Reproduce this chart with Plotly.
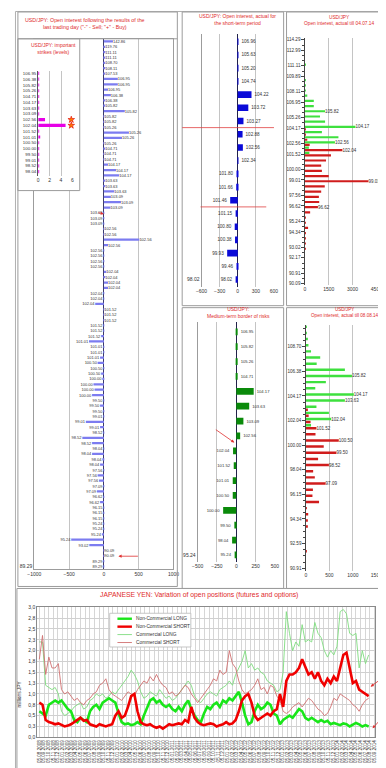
import plotly.graph_objects as go
import pandas as pd

W, H = 386, 768

# ---------------- DATA ----------------
# Big left panel: open interest after the last trading day
big_labels = [
    "142.86", "119.76", "111.11", "111.11", "108.70", "108.11", "107.53", "106.95", "106.95", "106.95",
    "106.38", "106.38", "105.82", "105.82", "105.82", "105.82", "105.26", "105.26", "105.26", "105.26",
    "104.71", "104.71", "104.71", "104.17", "104.17", "104.17", "103.63", "103.63", "103.63", "103.09",
    "103.09", "103.09", "103.09", "103.09", "103.09", "102.56", "102.56", "102.56", "102.56", "102.56",
    "102.56", "102.56", "102.56", "102.04", "102.04", "102.04", "102.04", "102.04", "102.04", "102.04",
    "101.52", "101.52", "101.52", "101.52", "101.52", "101.52", "101.01", "101.01", "101.01", "101.01",
    "100.50", "100.50", "100.50", "100.00", "100.00", "100.00", "100.00", "99.50", "99.50", "99.50",
    "99.01", "99.01", "99.01", "98.52", "98.52", "98.52", "98.04", "98.04", "98.04", "98.04",
    "97.56", "97.56", "97.56", "97.09", "97.09", "96.62", "96.62", "96.15", "96.15", "96.15",
    "95.24", "95.24", "95.24", "95.24", "93.02", "90.09", "90.09", "89.29", "89.29"]
big_values = [
    130, 15, 15, 15, 15, 15, 15, 200, 200, 60,
    100, 20, 20, 300, 5, 5, 5, 360, 260, 5,
    10, 5, 5, 60, 175, 220, 10, 10, 150, 100,
    245, 95, -5, -5, -5, 5, 5, 510, 60, -5,
    -5, -5, -5, 35, 10, 60, 60, -5, -5, -125,
    5, 5, 5, -5, -5, -40, -215, -5, -5, -55,
    -90, -5, -40, -10, -150, -135, -170, -5, -55, -5,
    -5, -260, -55, -5, -310, -170, -5, -170, -10, -55,
    -5, -90, -70, -5, -100, -5, -55, -5, -5, -5,
    -5, -5, -30, -470, -210, 5, 5, -5, -5]

# Inset: important strikes
inset_labels = ["106.95", "106.38", "105.82", "105.26", "104.71", "104.17", "103.63", "103.09", "102.56",
                "102.04", "101.52", "101.01", "100.50", "100.00", "99.50", "99.01", "98.52", "98.04"]
inset_values = [0.12, 0.12, 0.12, 0.12, 0.12, 0.12, 0.12, 0.12, 1.2,
                4.8, 0.12, 0.2, 0.12, 0.12, 0.12, 0.12, 0.12, 0.12]
inset_marker_labels = ["102.56", "102.04"]
inset_marker_values = [5.8, 5.8]

# Middle top: short-term open interest
mt_labels = ["106.96", "105.63", "105.20", "104.74", "104.22", "103.72", "103.27", "102.88", "102.56", "102.34",
             "101.80", "101.66", "101.46", "101.15", "100.80", "100.38", "99.93", "99.46", "98.02"]
mt_values = [8, 8, 8, 8, 228, 175, 95, 80, 85, 8, -8, -25, -125, -35, -50, -45, -175, -20, -35]

# Middle lower: medium-term border of risks
ml_labels = ["106.95", "105.82", "105.26", "104.71", "104.17", "103.63", "103.09", "102.56",
             "102.04", "101.52", "101.01", "100.50", "100.00", "99.50", "98.04", "95.24"]
ml_values = [5, 5, 5, 5, 225, 167, 92, 50, -42, -33, -46, -46, -170, -25, -54, -12]

# Right top: open interest till 04.07.14 (calls green, puts red)
rt_cats = ["114.29", "113.64", "112.99", "112.36", "111.73", "111.11", "110.50", "109.89", "109.29", "108.70",
           "108.11", "107.53", "106.95", "106.38", "105.82", "105.26", "104.71", "104.17", "103.63", "103.09",
           "102.56", "102.04", "101.52", "101.01", "100.50", "100.00", "99.50", "99.01", "98.52", "98.04",
           "97.56", "97.09", "96.62", "96.15", "95.69", "95.24", "94.79", "94.34", "93.90", "93.46",
           "93.02", "92.59", "92.17", "91.74", "91.32", "90.91", "90.50", "90.09"]
rt_green = [0, 0, 0, 0, 0, 10, 0, 0, 10, 20,
            30, 150, 560, 560, 1270, 950, 1270, 3180, 1070, 2110,
            1890, 250, 280, 0, 0, 0, 0, 0, 0, 0,
            0, 0, 0, 0, 0, 0, 0, 0, 0, 0,
            0, 0, 0, 0, 0, 0, 0, 0]
rt_red = [0, 0, 0, 0, 0, 0, 0, 0, 0, 0,
          0, 0, 0, 0, 0, 0, 0, 20, 20, 150,
          300, 2360, 1640, 1330, 1025, 1070, 1500, 4000, 1250, 1025,
          880, 900, 820, 330, 30, 40, 200, 60, 40, 20,
          10, 0, 0, 0, 0, 0, 0, 0]
rt_ticks = ["114.29", "112.99", "111.11", "109.89", "108.11", "106.95", "105.26", "104.17", "102.56", "101.52",
            "100.00", "99.01", "97.56", "96.62", "95.24", "94.34", "93.02", "92.17", "90.91", "90.09"]
rt_green_marked = ["105.82", "104.17", "102.56"]
rt_red_marked = ["102.04", "99.01", "96.62"]

# Right lower: open interest till 08.08.14
rl_cats = ["110.50", "109.89", "109.29", "108.70", "108.11", "107.53", "106.95", "106.38", "105.82", "105.26",
           "104.71", "104.17", "103.63", "103.09", "102.56", "102.04", "101.52", "101.01", "100.50", "100.00",
           "99.50", "99.01", "98.52", "98.04", "97.56", "97.09", "96.62", "96.15", "95.69", "95.24",
           "94.79", "94.34", "93.90", "93.46", "93.02", "92.59", "92.17", "91.74", "91.32", "90.91"]
rl_green = [10, 20, 40, 55, 110, 305, 230, 830, 980, 425,
            200, 1020, 830, 225, 490, 540, 110, 0, 0, 0,
            0, 0, 0, 0, 0, 0, 0, 0, 0, 0,
            0, 0, 0, 0, 0, 0, 0, 0, 0, 0]
rl_red = [0, 0, 0, 0, 0, 0, 0, 0, 0, 0,
          0, 0, 0, 30, 60, 100, 225, 205, 700, 380,
          650, 260, 490, 155, 190, 420, 150, 140, 280, 20,
          50, 40, 30, 0, 0, 0, 15, 0, 0, 0]
rl_ticks = ["108.70", "106.38", "104.17", "102.04", "100.00", "98.04", "96.15", "94.34", "92.59", "90.91"]
rl_green_marked = ["105.82", "104.17", "103.63", "102.04"]
rl_red_marked = ["101.52", "100.50", "99.50", "98.52", "97.09"]

# Bottom: COT positions (millions JPY), sampled every 3 weeks
cot_start = "2008-08-05"
cot_names = ["Non-Commercial LONG", "Non-Commercial SHORT", "Commercial LONG", "Commercial SHORT"]
ncl = [0.6, 0.55, 0.5, 0.75, 0.8, 0.85, 0.8, 0.85, 0.75, 0.65,
       0.6, 0.4, 0.35, 0.45, 0.4, 0.35, 0.6, 0.7, 0.75, 0.65,
       0.8, 0.85, 0.9, 0.85, 0.8, 0.55, 0.35, 0.3, 0.32, 0.28,
       0.3, 0.35, 0.3, 0.5, 0.7, 0.85, 0.9, 0.8, 0.85, 0.75,
       0.7, 0.75, 0.65, 0.6, 0.7, 0.6, 0.75, 0.85, 0.65, 0.5,
       0.4, 0.35, 0.55, 0.7, 0.65, 0.75, 0.8, 0.7, 0.85, 0.8,
       0.9, 0.85, 0.95, 1.05, 0.8, 0.5, 0.3, 0.35, 0.6, 0.75,
       0.65, 0.7, 0.8, 0.75, 0.55, 0.5, 0.3, 0.4, 0.45, 0.5,
       0.45, 0.55, 0.65, 0.6, 0.45, 0.4, 0.45, 0.4, 0.35, 0.4,
       0.35, 0.38, 0.3, 0.33, 0.3, 0.28, 0.32, 0.3, 0.25, 0.3,
       0.33, 0.3, 0.25, 0.28, 0.25]
ncs = [0.8, 0.75, 0.4, 0.35, 0.33, 0.3, 0.32, 0.28, 0.25, 0.27,
       0.3, 0.35, 0.4, 0.45, 0.38, 0.4, 0.3, 0.28, 0.25, 0.3,
       0.27, 0.25, 0.28, 0.3, 0.5, 0.6, 0.45, 0.5, 0.7, 0.95,
       1.0, 0.6, 0.35, 0.3, 0.28, 0.3, 0.25, 0.22, 0.25, 0.2,
       0.25, 0.3, 0.28, 0.3, 0.32, 0.3, 0.4, 0.35, 0.7, 0.45,
       0.35, 0.3, 0.28, 0.3, 0.32, 0.3, 0.25, 0.28, 0.3, 0.35,
       0.3, 0.32, 0.4, 0.6, 0.85, 0.95, 1.0, 0.8, 0.5, 0.4,
       0.45, 0.5, 0.55, 0.5, 0.6, 0.65, 1.0, 0.7, 1.3, 1.45,
       1.45, 1.5, 1.6, 1.8, 1.6, 1.45, 1.5, 1.35, 1.5, 1.3,
       1.2, 1.35, 1.25, 1.4, 1.3, 1.6, 1.9, 1.95, 1.6, 1.25,
       1.3, 1.1, 1.05, 1.0, 0.95]
cl = [2.2, 2.2, 1.2, 1.15, 1.1, 1.15, 1.0, 0.6, 0.5, 0.55,
      0.6, 0.7, 0.75, 0.8, 0.65, 0.7, 0.85, 0.9, 1.0, 0.95,
      1.0, 0.9, 0.95, 1.05, 1.0, 1.1, 1.2, 1.3, 1.4, 1.55,
      1.45, 1.3, 1.05, 0.9, 0.95, 1.05, 1.0, 0.95, 1.1, 1.0,
      0.9, 0.95, 0.85, 0.9, 1.0, 1.1, 1.2, 1.3, 1.2, 0.95,
      0.85, 0.8, 0.9, 1.0, 1.05, 1.0, 0.95, 1.1, 1.15, 1.2,
      1.3, 1.2, 1.45, 1.6, 1.75, 2.0, 1.6, 1.7, 1.55, 1.6,
      1.5, 1.45, 1.3, 1.25, 1.2, 1.05, 1.1, 1.5, 2.9, 2.4,
      2.0, 2.2, 2.1, 2.6, 2.2, 2.25, 2.2, 2.65, 2.4, 2.3,
      2.0, 1.85, 2.0, 1.9, 2.1, 2.9, 2.95, 2.85, 2.4, 2.35,
      2.4, 1.6, 2.0, 1.7, 1.9]
cs = [1.8, 2.35, 1.45, 1.85, 1.6, 1.6, 1.7, 1.1, 1.0, 1.05,
      0.95, 0.85, 0.9, 0.8, 0.75, 0.85, 0.9, 1.0, 1.05, 1.2,
      1.25, 1.35, 1.1, 1.0, 0.95, 0.9, 0.85, 0.95, 1.05, 1.0,
      0.95, 1.1, 1.2, 1.3, 1.25, 1.4, 1.3, 1.45, 1.3, 1.2,
      1.15, 1.0, 1.05, 0.95, 1.0, 1.1, 1.2, 1.15, 1.0, 0.9,
      0.8, 0.9, 1.0, 1.1, 1.2, 1.35, 1.3, 1.55, 1.45, 1.5,
      2.0, 1.7, 1.6, 1.3, 1.1, 1.0, 1.05, 1.1, 1.2, 1.35,
      1.1, 1.15, 1.0, 1.2, 1.15, 0.95, 0.85, 0.6, 0.55, 0.6,
      0.7, 0.75, 0.8, 0.7, 0.8, 0.9, 0.85, 0.75, 0.65, 0.6,
      0.5, 0.55, 0.7, 0.9, 0.85, 1.0, 0.95, 0.9, 0.85, 0.75,
      0.7, 0.6, 0.75, 0.85, 0.9]

# ---------------- helpers ----------------
def fx(p):
    return p / W


def fy(p):
    return 1 - p / H


def dxd(a, b):
    return [a / W, b / W]


def dyd(top, bottom):
    return [1 - bottom / H, 1 - top / H]


FONT = "Arial, 'Liberation Sans', sans-serif"
RED = "#e02a2a"
GRID = "#c4c4c4"
BOX = "#9c9c9c"
TXT = "#333333"

fig = go.Figure()

# ---------------- big left panel ----------------
big_rows = list(range(len(big_labels)))
fig.add_trace(go.Bar(
    x=big_values, y=big_rows, orientation="h", width=0.42,
    marker=dict(color="#7c7cf0", line=dict(width=0)),
    text=big_labels, textposition="outside", constraintext="none", cliponaxis=False,
    textfont=dict(size=4, color=TXT), xaxis="x", yaxis="y", hoverinfo="skip"))

# cover subplot for the inset (white background over the big panel)
fig.add_trace(go.Scatter(x=[0], y=[0], mode="markers", marker=dict(opacity=0),
                         xaxis="x2", yaxis="y2", hoverinfo="skip"))

# ---------------- inset ----------------
inset_rows = list(range(len(inset_labels)))
fig.add_trace(go.Bar(
    x=inset_values, y=inset_rows, orientation="h", width=0.55,
    marker=dict(color="#e600e6", line=dict(width=0)),
    xaxis="x3", yaxis="y3", hoverinfo="skip"))
fig.add_trace(go.Scatter(
    x=inset_marker_values, y=[inset_labels.index(v) for v in inset_marker_labels],
    mode="markers", marker=dict(symbol="star", size=5, color="#ff7a00", line=dict(color="#e00000", width=0.6)),
    xaxis="x3", yaxis="y3", hoverinfo="skip", cliponaxis=False))

# ---------------- middle top ----------------
fig.add_trace(go.Bar(
    x=mt_values, y=list(range(len(mt_labels))), orientation="h", width=0.5,
    marker=dict(color="#0a0ad8", line=dict(width=0)),
    text=mt_labels, textposition="outside", constraintext="none", cliponaxis=False,
    textfont=dict(size=4.6, color=TXT), xaxis="x4", yaxis="y4", hoverinfo="skip"))

# ---------------- right top ----------------
rt_rows = list(range(len(rt_cats)))
fig.add_trace(go.Bar(
    x=rt_green, y=rt_rows, orientation="h", width=0.42, offset=-0.45,
    marker=dict(color="#3ee03e", line=dict(width=0)),
    text=[c if c in rt_green_marked else "" for c in rt_cats],
    textposition="outside", constraintext="none", cliponaxis=False,
    textfont=dict(size=4.5, color=TXT), xaxis="x5", yaxis="y5", hoverinfo="skip"))
fig.add_trace(go.Bar(
    x=rt_red, y=rt_rows, orientation="h", width=0.42, offset=0.03,
    marker=dict(color="#d01c1c", line=dict(width=0)),
    text=[c if c in rt_red_marked else "" for c in rt_cats],
    textposition="outside", constraintext="none", cliponaxis=False,
    textfont=dict(size=4.5, color=TXT), xaxis="x5", yaxis="y5", hoverinfo="skip"))

# ---------------- middle lower ----------------
fig.add_trace(go.Bar(
    x=ml_values, y=list(range(len(ml_labels))), orientation="h", width=0.45,
    marker=dict(color="#0a8a0a", line=dict(width=0)),
    text=ml_labels, textposition="outside", constraintext="none", cliponaxis=False,
    textfont=dict(size=4.2, color=TXT), xaxis="x6", yaxis="y6", hoverinfo="skip"))

# ---------------- right lower ----------------
rl_rows = list(range(len(rl_cats)))
fig.add_trace(go.Bar(
    x=rl_green, y=rl_rows, orientation="h", width=0.4, offset=-0.45,
    marker=dict(color="#3ee03e", line=dict(width=0)),
    text=[c if c in rl_green_marked else "" for c in rl_cats],
    textposition="outside", constraintext="none", cliponaxis=False,
    textfont=dict(size=4.5, color=TXT), xaxis="x7", yaxis="y7", hoverinfo="skip"))
fig.add_trace(go.Bar(
    x=rl_red, y=rl_rows, orientation="h", width=0.4, offset=0.03,
    marker=dict(color="#d01c1c", line=dict(width=0)),
    text=[c if c in rl_red_marked else "" for c in rl_cats],
    textposition="outside", constraintext="none", cliponaxis=False,
    textfont=dict(size=4.5, color=TXT), xaxis="x7", yaxis="y7", hoverinfo="skip"))

# ---------------- bottom line chart ----------------
cot_dates = pd.date_range(cot_start, periods=len(ncl), freq="21D")
series = [(cl, "#7fdc7f", 0.9, cot_names[2]), (cs, "#d07070", 0.9, cot_names[3]),
          (ncl, "#19e619", 2.6, cot_names[0]), (ncs, "#f00000", 2.6, cot_names[1])]
for vals, col, wdt, nm in series:
    fig.add_trace(go.Scatter(x=cot_dates, y=vals, mode="lines", name=nm,
                             line=dict(color=col, width=wdt), xaxis="x8", yaxis="y8", hoverinfo="skip"))

# ---------------- axes ----------------
tf = dict(size=5, color=TXT, family=FONT)
layout_axes = dict(
    xaxis=dict(domain=dxd(20, 164), anchor="y", range=[-1000, 1000], dtick=500, tickfont=tf,
               showgrid=True, gridcolor=GRID, gridwidth=0.6, zeroline=True, zerolinecolor="#3a3a6a",
               zerolinewidth=1, showline=True, linecolor=BOX, mirror=True, ticks=""),
    yaxis=dict(domain=dyd(28, 562), anchor="x", range=[len(big_labels) - 0.6, -0.5],
               tickmode="array", tickvals=[len(big_labels) - 1], ticktext=[big_labels[-1]], tickfont=tf,
               showgrid=False, zeroline=False, showline=True, linecolor=BOX, mirror=True, ticks=""),
    xaxis2=dict(domain=dxd(3, 67), anchor="y2", range=[0, 1], showgrid=False, zeroline=False,
                showline=False, showticklabels=False, ticks=""),
    yaxis2=dict(domain=dyd(28, 181), anchor="x2", range=[0, 1], showgrid=False, zeroline=False,
                showline=False, showticklabels=False, ticks=""),
    xaxis3=dict(domain=dxd(24, 60), anchor="y3", range=[0, 6.1], tickvals=[0, 2, 4, 6], tickfont=tf,
                showgrid=True, gridcolor=GRID, gridwidth=0.6, zeroline=False, showline=False, ticks=""),
    yaxis3=dict(domain=dyd(60, 166), anchor="x3", range=[len(inset_labels) - 0.3, -0.5],
                tickmode="array", tickvals=inset_rows, ticktext=inset_labels,
                tickfont=dict(size=4.4, color=TXT, family=FONT),
                showgrid=False, zeroline=False, showline=True, linecolor="#555555", ticks=""),
    xaxis4=dict(domain=dxd(193, 268), anchor="y4", range=[-600, 600], dtick=300, tickfont=tf,
                showgrid=True, gridcolor=GRID, gridwidth=0.6, zeroline=True, zerolinecolor="#22224a",
                zerolinewidth=1, showline=False, ticks=""),
    yaxis4=dict(domain=dyd(23, 278), anchor="x4", range=[len(mt_labels) - 0.45, -0.6],
                tickmode="array", tickvals=[len(mt_labels) - 1], ticktext=[mt_labels[-1]], tickfont=tf,
                showgrid=False, zeroline=False, showline=True, linecolor=BOX, ticks=""),
    xaxis5=dict(domain=dxd(300, 374), anchor="y5", range=[0, 4500], dtick=1500, tickfont=tf,
                showgrid=True, gridcolor=GRID, gridwidth=0.6, zeroline=False, showline=False, ticks=""),
    yaxis5=dict(domain=dyd(27, 276), anchor="x5", range=[len(rt_cats) - 0.8, -0.4],
                tickmode="array", tickvals=[rt_cats.index(t) for t in rt_ticks], ticktext=rt_ticks,
                tickfont=dict(size=4.6, color=TXT, family=FONT),
                showgrid=False, zeroline=False, showline=True, linecolor="#444444",
                ticks="outside", ticklen=2.5, tickcolor="#444444", tickwidth=0.6,
                minor=dict(tickmode="linear", tick0=0, dtick=1, ticks="outside", ticklen=1.5,
                           tickcolor="#444444", tickwidth=0.5, showgrid=False)),
    xaxis6=dict(domain=dxd(189, 269), anchor="y6", range=[-500, 500], dtick=250, tickfont=tf,
                showgrid=True, gridcolor=GRID, gridwidth=0.6, zeroline=True, zerolinecolor="#22224a",
                zerolinewidth=1, showline=False, ticks=""),
    yaxis6=dict(domain=dyd(313, 555), anchor="x6", range=[len(ml_labels) - 0.55, -0.69],
                tickmode="array", tickvals=[len(ml_labels) - 1], ticktext=[ml_labels[-1]], tickfont=tf,
                showgrid=False, zeroline=False, showline=True, linecolor=BOX, ticks=""),
    xaxis7=dict(domain=dxd(301, 374), anchor="y7", range=[0, 1500], dtick=500, tickfont=tf,
                showgrid=True, gridcolor=GRID, gridwidth=0.6, zeroline=False, showline=False, ticks=""),
    yaxis7=dict(domain=dyd(316.7, 564.7), anchor="x7", range=[len(rl_cats) - 0.5, -0.5],
                tickmode="array", tickvals=[rl_cats.index(t) for t in rl_ticks], ticktext=rl_ticks,
                tickfont=dict(size=4.6, color=TXT, family=FONT),
                showgrid=False, zeroline=False, showline=True, linecolor="#444444",
                ticks="outside", ticklen=2.5, tickcolor="#444444", tickwidth=0.6,
                minor=dict(tickmode="linear", tick0=0, dtick=1, ticks="outside", ticklen=1.5,
                           tickcolor="#444444", tickwidth=0.5, showgrid=False)),
    xaxis8=dict(domain=dxd(23, 373), anchor="y8", type="date", range=["2008-07-22", "2014-09-12"],
                tick0=cot_start, dtick="M1", tickformat="%d.%m.%Y", tickangle=-90,
                tickfont=dict(size=4.6, color=TXT, family=FONT),
                showgrid=True, gridcolor="#d6d6d6", gridwidth=0.5, zeroline=False,
                showline=True, linecolor="#8a8a8a", mirror=True, ticks=""),
    yaxis8=dict(domain=dyd(601, 732), anchor="x8", range=[0, 3], dtick=0.25, tickformat=".1f",
                tickfont=tf, showgrid=True, gridcolor="#d0d0d0", gridwidth=0.6, zeroline=False,
                showline=True, linecolor="#8a8a8a", mirror=True, ticks=""),
)

# ---------------- shapes ----------------
def rect(x0, y0, x1, y1, color=BOX, fill="rgba(0,0,0,0)", width=1):
    return dict(type="rect", xref="paper", yref="paper", x0=fx(x0), x1=fx(x1), y0=fy(y0), y1=fy(y1),
                line=dict(color=color, width=width), fillcolor=fill, layer="above")


def hline(x0, x1, y, color=BOX, width=1):
    return dict(type="line", xref="paper", yref="paper", x0=fx(x0), x1=fx(x1), y0=fy(y), y1=fy(y),
                line=dict(color=color, width=width), layer="above")


shapes = [
    rect(0.5, 0.5, 385.5, 767.5, color="#b0b0b0"),
    rect(3, 1, 168, 580),
    hline(3, 168, 28),
    rect(3, 28, 67, 181),
    rect(173, 1, 278, 297),
    rect(281, 1, 385, 297),
    rect(173, 299, 278, 582),
    rect(281, 299, 385, 582),
    rect(2, 582, 384, 766),
    # short-term border lines
    dict(type="line", xref="paper", yref="y4", x0=fx(173), x1=fx(268), y0=6.5, y1=6.5,
         line=dict(color="#e04040", width=0.8), layer="above"),
    dict(type="line", xref="paper", yref="y4", x0=fx(192), x1=fx(260), y0=12.5, y1=12.5,
         line=dict(color="#e04040", width=0.8), layer="above"),
    # legend box
    rect(98, 607, 182, 641, color="#b8b8b8", fill="white", width=0.8),
]

annotations = []


def title(text, cx, cy, size=5.2):
    annotations.append(dict(text=text, x=fx(cx), y=fy(cy), xref="paper", yref="paper", showarrow=False,
                            xanchor="center", yanchor="middle", align="center",
                            font=dict(size=size, color=RED, family=FONT)))


title("USD/JPY: Open interest following the results of the<br>last trading day (\"-\" - Sell; \"+\" - Buy)", 72, 12.5, 5.3)
title("USD/JPY: important<br>strikes (levels)", 40, 37.5, 5)
title("USD/JPY: Open interest, actual for<br>the short-term period", 230, 9, 5)
title("USD/JPY<br>Open interest, actual till 04.07.14", 335, 10, 4.8)
title("USD/JPY:<br>Medium-term border of risks", 231, 304, 5)
title("USD/JPY<br>Open interest, actual till 08.08.14", 342, 304, 4.6)
title("JAPANESE YEN: Variation of open positions (futures and options)", 190, 589, 6.8)

# y-axis title of bottom chart
annotations.append(dict(text="millions JPY", x=fx(5), y=fy(688), xref="paper", yref="paper", showarrow=False,
                        textangle=-90, font=dict(size=4.8, color=TXT, family=FONT),
                        xanchor="center", yanchor="middle"))

# manual legend
leg_style = {cot_names[0]: ("#19e619", 2.4), cot_names[1]: ("#f00000", 2.4),
             cot_names[2]: ("#7fdc7f", 0.9), cot_names[3]: ("#d07070", 0.9)}
for i, nm in enumerate(cot_names):
    yy = 612.5 + 8 * i
    col, wdt = leg_style[nm]
    shapes.append(hline(106, 121, yy, color=col, width=wdt))
    annotations.append(dict(text=nm, x=fx(123), y=fy(yy), xref="paper", yref="paper", showarrow=False,
                            xanchor="left", yanchor="middle", font=dict(size=4.8, color=TXT, family=FONT)))


def arrow(hx, hy, tx, ty):
    annotations.append(dict(text="", x=fx(hx), y=fy(hy), xref="paper", yref="paper", showarrow=True,
                            ax=tx - hx, ay=ty - hy, arrowhead=2, arrowsize=0.8, arrowwidth=0.8,
                            arrowcolor="#e03030", standoff=0))


arrow(107, 549.5, 128, 549.5)
arrow(92, 204.5, 85, 203)
arrow(227, 435, 207, 421)
arrow(368, 681, 383, 670)
arrow(370, 723, 380, 712)

fig.update_layout(
    width=W, height=H, margin=dict(l=0, r=0, t=0, b=0),
    paper_bgcolor="white", plot_bgcolor="white",
    font=dict(family=FONT, size=5, color=TXT),
    showlegend=False, barmode="overlay", separators=", ",
    shapes=shapes, annotations=annotations,
    **layout_axes)

fig.write_html("out.html")
